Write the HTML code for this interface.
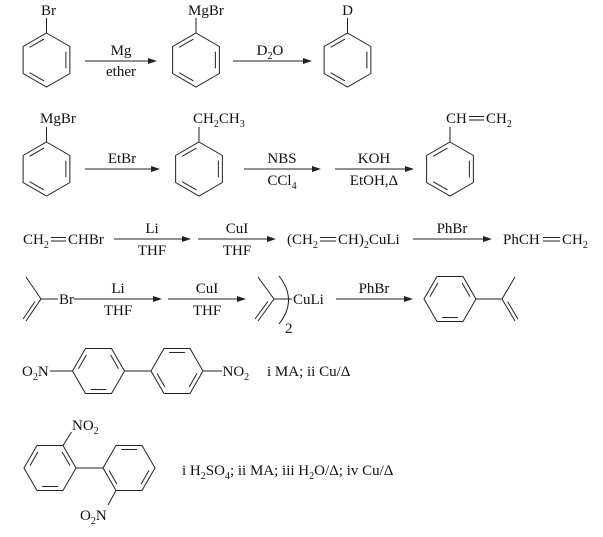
<!DOCTYPE html>
<html>
<head>
<meta charset="utf-8">
<style>
html,body{margin:0;padding:0;background:#fff;}
svg{display:block;}
text{font-family:"Liberation Serif","Times New Roman",serif;font-size:15px;fill:#111;}
</style>
</head>
<body>
<svg width="603" height="537" viewBox="0 0 603 537" xmlns="http://www.w3.org/2000/svg">
<defs>
  <g id="pr">
    <polygon points="0,-27 23.38,-13.5 23.38,13.5 0,27 -23.38,13.5 -23.38,-13.5" fill="none"/>
    <line x1="19.38" y1="-8.3" x2="19.38" y2="8.3"/>
    <line x1="-2.52" y1="20.93" x2="-16.86" y2="12.64"/>
    <line x1="-16.86" y1="-12.64" x2="-2.52" y2="-20.93"/>
  </g>
  <polygon id="fr" points="-26,0 -13,-22.52 13,-22.52 26,0 13,22.52 -13,22.52" fill="none"/>
  <line id="fT" x1="-7.9" y1="-18.52" x2="7.9" y2="-18.52"/>
  <line id="fUR" x1="12.08" y1="-16.11" x2="19.99" y2="-2.41"/>
  <line id="fLR" x1="19.99" y1="2.41" x2="12.08" y2="16.11"/>
  <line id="fB" x1="7.9" y1="18.52" x2="-7.9" y2="18.52"/>
  <line id="fLL" x1="-12.08" y1="16.11" x2="-19.99" y2="2.41"/>
  <line id="fUL" x1="-19.99" y1="-2.41" x2="-12.08" y2="-16.11"/>
</defs>

<g stroke="#222" stroke-width="1" fill="none">
  <!-- Row 1 -->
  <use href="#pr" x="46.5" y="60"/>
  <line x1="46.5" y1="33" x2="46.5" y2="18"/>
  <line x1="85" y1="61" x2="149" y2="61"/>
  <use href="#pr" x="196" y="60"/>
  <line x1="196" y1="33" x2="196" y2="18"/>
  <line x1="233" y1="61" x2="304" y2="61"/>
  <use href="#pr" x="347.5" y="60"/>
  <line x1="347.5" y1="33" x2="347.5" y2="18"/>

  <!-- Row 2 -->
  <use href="#pr" x="46.5" y="169"/>
  <line x1="46.5" y1="142" x2="46.5" y2="127"/>
  <line x1="85" y1="169" x2="152" y2="169"/>
  <use href="#pr" x="199" y="169"/>
  <line x1="199" y1="142" x2="199" y2="127"/>
  <line x1="244" y1="169" x2="313" y2="169"/>
  <line x1="335" y1="169" x2="406" y2="169"/>
  <use href="#pr" x="450" y="169"/>
  <line x1="450" y1="142" x2="450" y2="127"/>
  <line x1="469" y1="116.5" x2="484" y2="116.5"/>
  <line x1="469" y1="120" x2="484" y2="120"/>

  <!-- Row 3 -->
  <line x1="51" y1="237.5" x2="66" y2="237.5"/>
  <line x1="51" y1="241" x2="66" y2="241"/>
  <line x1="114" y1="239" x2="183" y2="239"/>
  <line x1="198" y1="239" x2="268" y2="239"/>
  <line x1="320" y1="237.5" x2="336" y2="237.5"/>
  <line x1="320" y1="241" x2="336" y2="241"/>
  <line x1="413" y1="239" x2="484" y2="239"/>
  <line x1="543" y1="237.5" x2="560" y2="237.5"/>
  <line x1="543" y1="241" x2="560" y2="241"/>

  <!-- Row 4 -->
  <line x1="26" y1="277" x2="41" y2="299"/>
  <line x1="41" y1="299" x2="26" y2="321"/>
  <line x1="35.1" y1="301.4" x2="23.1" y2="319"/>
  <line x1="41" y1="299" x2="58" y2="299"/>
  <line x1="74" y1="299" x2="154" y2="299"/>
  <line x1="168" y1="299" x2="238" y2="299"/>
  <line x1="258" y1="277" x2="274" y2="299"/>
  <line x1="274" y1="299" x2="258" y2="321"/>
  <line x1="267.9" y1="301.4" x2="255.1" y2="319"/>
  <line x1="274" y1="299" x2="292" y2="299"/>
  <path d="M279,276 Q298,300 279,324"/>
  <line x1="336" y1="299" x2="405" y2="299"/>
  <g transform="translate(450,299)">
    <use href="#fr"/><use href="#fUL"/><use href="#fUR"/><use href="#fB"/>
  </g>
  <line x1="476" y1="299" x2="502" y2="299"/>
  <line x1="502" y1="299" x2="515" y2="277"/>
  <line x1="502" y1="299" x2="515" y2="321"/>
  <line x1="507.6" y1="301.6" x2="518" y2="319.2"/>

  <!-- Row 5 -->
  <line x1="50" y1="371" x2="72.5" y2="371"/>
  <g transform="translate(98.5,371)">
    <use href="#fr"/><use href="#fUL"/><use href="#fUR"/><use href="#fB"/>
  </g>
  <line x1="124.5" y1="371" x2="151" y2="371"/>
  <g transform="translate(177,371)">
    <use href="#fr"/><use href="#fT"/><use href="#fLR"/><use href="#fLL"/>
  </g>
  <line x1="203" y1="371" x2="222" y2="371"/>

  <!-- Row 6 -->
  <g transform="translate(50,468)">
    <use href="#fr"/><use href="#fUL"/><use href="#fUR"/><use href="#fB"/>
  </g>
  <line x1="76" y1="468" x2="103" y2="468"/>
  <g transform="translate(129,468)">
    <use href="#fr"/><use href="#fT"/><use href="#fLR"/><use href="#fLL"/>
  </g>
  <line x1="63" y1="445.5" x2="71.5" y2="432"/>
  <line x1="116" y1="490.5" x2="108" y2="505"/>
</g>

<!-- arrowheads -->
<g fill="#222" stroke="none">
  <polygon points="157,61 148,58 148,64"/>
  <polygon points="312,61 303,58 303,64"/>
  <polygon points="160,169 151,166 151,172"/>
  <polygon points="321,169 312,166 312,172"/>
  <polygon points="414,169 405,166 405,172"/>
  <polygon points="191,239 182,236 182,242"/>
  <polygon points="276,239 267,236 267,242"/>
  <polygon points="492,239 483,236 483,242"/>
  <polygon points="162,299 153,296 153,302"/>
  <polygon points="246,299 237,296 237,302"/>
  <polygon points="413,299 404,296 404,302"/>
</g>

<!-- Row 1 text -->
<text x="41" y="15">Br</text>
<text x="121" y="55" text-anchor="middle">Mg</text>
<text x="121" y="76" text-anchor="middle">ether</text>
<text x="188" y="15">MgBr</text>
<text x="270" y="55" text-anchor="middle">D<tspan font-size="10" dy="4">2</tspan><tspan dy="-4">O</tspan></text>
<text x="347.5" y="15" text-anchor="middle">D</text>

<!-- Row 2 text -->
<text x="40" y="123">MgBr</text>
<text x="122" y="163" text-anchor="middle">EtBr</text>
<text x="193" y="123">CH<tspan font-size="10" dy="4">2</tspan><tspan dy="-4">CH</tspan><tspan font-size="10" dy="4">3</tspan></text>
<text x="282" y="163" text-anchor="middle">NBS</text>
<text x="282" y="185" text-anchor="middle">CCl<tspan font-size="10" dy="4">4</tspan></text>
<text x="374" y="163" text-anchor="middle">KOH</text>
<text x="374" y="185" text-anchor="middle">EtOH,Δ</text>
<text x="446" y="123">CH</text>
<text x="486" y="123">CH<tspan font-size="10" dy="4">2</tspan></text>

<!-- Row 3 text -->
<text x="23" y="244">CH<tspan font-size="10" dy="4">2</tspan></text>
<text x="68" y="244">CHBr</text>
<text x="152" y="233" text-anchor="middle">Li</text>
<text x="152" y="255" text-anchor="middle">THF</text>
<text x="237" y="233" text-anchor="middle">CuI</text>
<text x="237" y="255" text-anchor="middle">THF</text>
<text x="287" y="244">(CH<tspan font-size="10" dy="4">2</tspan></text>
<text x="338" y="244">CH)<tspan font-size="10" dy="4">2</tspan><tspan dy="-4">CuLi</tspan></text>
<text x="452" y="233" text-anchor="middle">PhBr</text>
<text x="503" y="244">PhCH</text>
<text x="562" y="244">CH<tspan font-size="10" dy="4">2</tspan></text>

<!-- Row 4 text -->
<text x="59" y="304">Br</text>
<text x="118" y="293" text-anchor="middle">Li</text>
<text x="118" y="315" text-anchor="middle">THF</text>
<text x="207" y="293" text-anchor="middle">CuI</text>
<text x="207" y="315" text-anchor="middle">THF</text>
<text x="293" y="304">CuLi</text>
<text x="285" y="333" font-size="10">2</text>
<text x="374" y="293" text-anchor="middle">PhBr</text>

<!-- Row 5 text -->
<text x="22" y="376">O<tspan font-size="10" dy="4">2</tspan><tspan dy="-4">N</tspan></text>
<text x="222.5" y="376">NO<tspan font-size="10" dy="4">2</tspan></text>
<text x="267" y="376">i MA; ii Cu/Δ</text>

<!-- Row 6 text -->
<text x="72" y="430">NO<tspan font-size="10" dy="4">2</tspan></text>
<text x="80" y="520">O<tspan font-size="10" dy="4">2</tspan><tspan dy="-4">N</tspan></text>
<text x="182" y="475">i H<tspan font-size="10" dy="4">2</tspan><tspan dy="-4">SO</tspan><tspan font-size="10" dy="4">4</tspan><tspan dy="-4">; ii MA; iii H</tspan><tspan font-size="10" dy="4">2</tspan><tspan dy="-4">O/Δ; iv Cu/Δ</tspan></text>
</svg>
</body>
</html>
